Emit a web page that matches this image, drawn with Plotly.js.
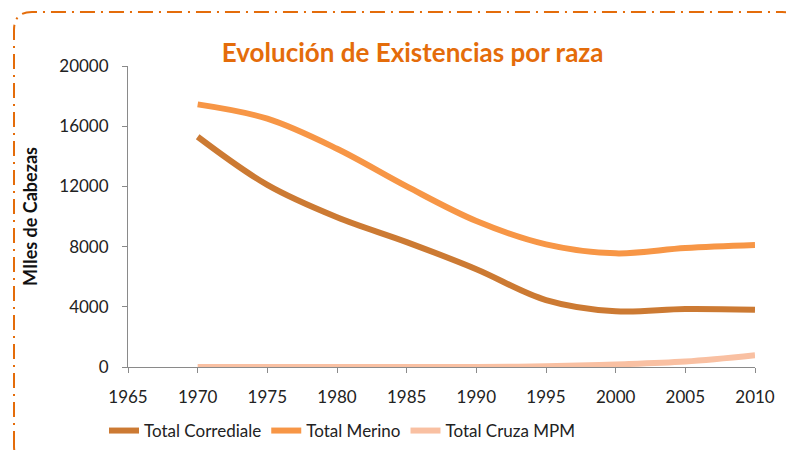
<!DOCTYPE html>
<html>
<head>
<meta charset="utf-8">
<script src="https://cdn.plot.ly/plotly-3.0.1.min.js"></script>
<style>
  html, body { margin: 0; padding: 0; background: #ffffff; }
  #chart { width: 786px; height: 450px; }
</style>
</head>
<body>
<div id="chart"></div>
<script>
const years = [1970, 1975, 1980, 1985, 1990, 1995, 2000, 2005, 2010];
const corrediale = [15300, 12100, 9950, 8300, 6500, 4450, 3700, 3850, 3800];
const merino = [17450, 16500, 14500, 12000, 9700, 8150, 7550, 7900, 8100];
const cruzaMPM = [0, 0, 0, 0, 0, 50, 170, 360, 780];
const seriesNames = ["Total Corrediale", "Total Merino", "Total Cruza MPM"];
const seriesColors = ["#CC7A33", "#F79646", "#F9C0A2"];
const xTicks = [1965, 1970, 1975, 1980, 1985, 1990, 1995, 2000, 2005, 2010];
const yTicks = [0, 4000, 8000, 12000, 16000, 20000];

const font = "Lato, 'Open Sans', sans-serif";
const W = 786, H = 450;
const M = { l: 128, r: 31, t: 66, b: 83, autoexpand: false };
const pw = W - M.l - M.r, ph = H - M.t - M.b;
// convert pixel coords to paper coords for the decorative border
const px = x => (x - M.l) / pw;
const py = y => 1 - (y - M.t) / ph;

const seriesData = [corrediale, merino, cruzaMPM];
const traces = seriesData.map((d, i) => ({
  x: years, y: d, name: seriesNames[i], type: 'scatter', mode: 'lines',
  line: { color: seriesColors[i], width: 6, shape: 'spline', smoothing: 1 },
  hoverinfo: 'skip'
}));

const r = 18;
const L = 14, T = 12, R = 800, B = 464;
const borderPath = `M ${px(L)},${py(B - r)} L ${px(L)},${py(T + r)} Q ${px(L)},${py(T)} ${px(L + r)},${py(T)} L ${px(R - r)},${py(T)} Q ${px(R)},${py(T)} ${px(R)},${py(T + r)} L ${px(R)},${py(B - r)} Q ${px(R)},${py(B)} ${px(R - r)},${py(B)} L ${px(L + r)},${py(B)} Q ${px(L)},${py(B)} ${px(L)},${py(B - r)} Z`;

const layout = {
  width: W, height: H,
  margin: M,
  paper_bgcolor: '#ffffff', plot_bgcolor: '#ffffff',
  font: { family: font, size: 17, color: '#222222' },
  title: {
    text: '<b>Evolución de Existencias por raza</b>',
    font: { family: font, size: 26, color: '#E46C0A' },
    x: 0.525, xanchor: 'center', y: 0.882, yanchor: 'middle'
  },
  xaxis: {
    range: [1965, 2010], tickvals: xTicks, ticktext: xTicks.map(String),
    showgrid: false, zeroline: false, showline: true, linecolor: '#8a8a8a', linewidth: 1,
    ticks: 'outside', ticklen: 5, tickcolor: '#8a8a8a', ticklabelstandoff: 10,
    tickfont: { family: font, size: 17, color: '#222' }, fixedrange: true
  },
  yaxis: {
    range: [0, 20000], tickvals: yTicks, ticktext: yTicks.map(String),
    showgrid: false, zeroline: false, showline: true, linecolor: '#8a8a8a', linewidth: 1,
    ticks: 'outside', ticklen: 5, tickcolor: '#8a8a8a', ticklabelstandoff: 10,
    tickfont: { family: font, size: 17, color: '#222' },
    title: { text: '<b>MIles de Cabezas</b>', font: { family: font, size: 18, color: '#111' }, standoff: 16 },
    fixedrange: true
  },
  showlegend: true,
  legend: {
    orientation: 'h', x: px(104), xanchor: 'left', y: py(431), yanchor: 'middle',
    font: { family: font, size: 17, color: '#222' },
    itemwidth: 30, tracegroupgap: 0, bgcolor: 'rgba(0,0,0,0)'
  },
  shapes: [{
    type: 'path', xref: 'paper', yref: 'paper', path: borderPath,
    line: { color: '#E46C0A', width: 2, dash: '15px,6px,2px,6px' }, layer: 'below'
  }]
};

Plotly.newPlot('chart', traces, layout, { displayModeBar: false, staticPlot: true });
</script>
</body>
</html>
